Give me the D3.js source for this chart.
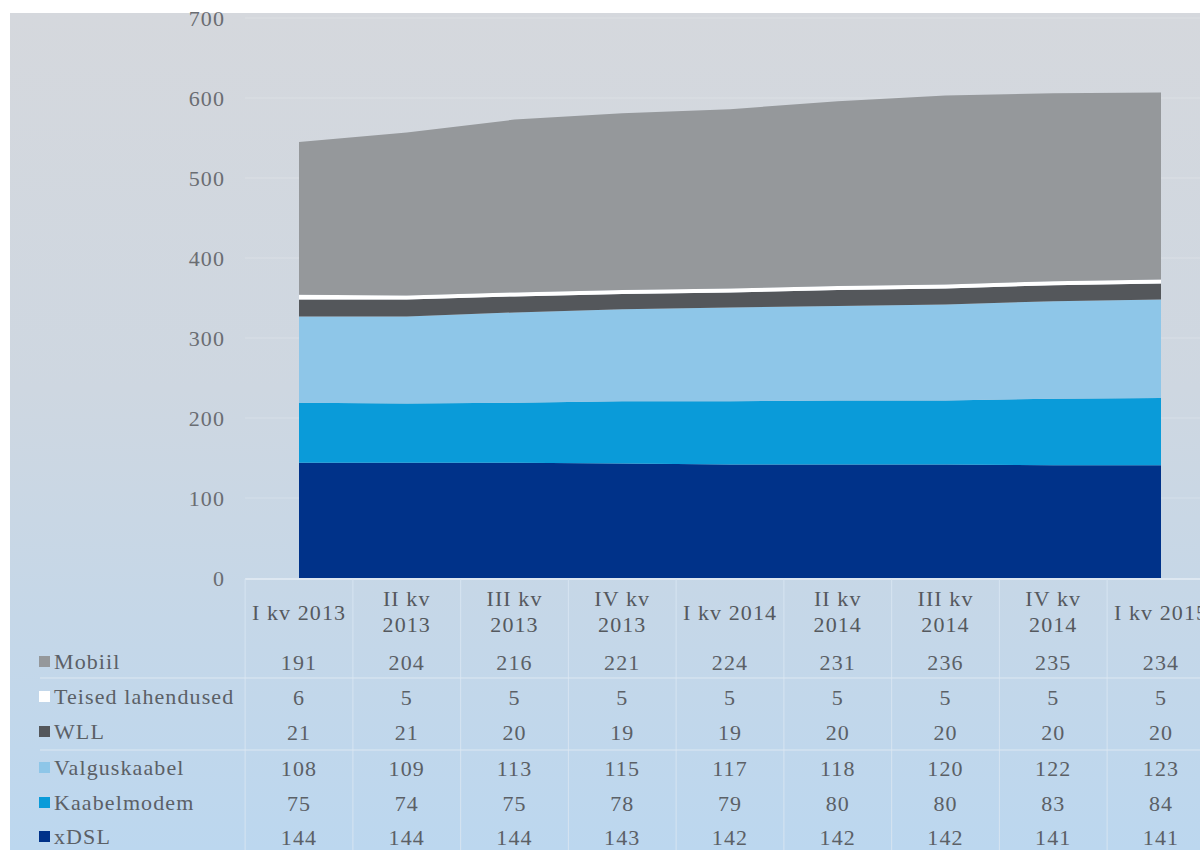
<!DOCTYPE html>
<html>
<head>
<meta charset="utf-8">
<script src="https://cdn.jsdelivr.net/npm/d3@7"></script>
<style>
html,body{margin:0;padding:0;background:#fff;}
svg{display:block;}
</style>
</head>
<body>
<svg id="chart" width="1200" height="850"></svg>
<script>
const categories = ["I kv 2013","II kv 2013","III kv 2013","IV kv 2013","I kv 2014","II kv 2014","III kv 2014","IV kv 2014","I kv 2015"];
const categoryLines = [["I kv 2013"],["II kv","2013"],["III kv","2013"],["IV kv","2013"],["I kv 2014"],["II kv","2014"],["III kv","2014"],["IV kv","2014"],["I kv 2015"]];
const seriesNames = ["Mobiil","Teised lahendused","WLL","Valguskaabel","Kaabelmodem","xDSL"];
const mobiil = [191,204,216,221,224,231,236,235,234];
const teised = [6,5,5,5,5,5,5,5,5];
const wll = [21,21,20,19,19,20,20,20,20];
const valguskaabel = [108,109,113,115,117,118,120,122,123];
const kaabelmodem = [75,74,75,78,79,80,80,83,84];
const xdsl = [144,144,144,143,142,142,142,141,141];
const yTicks = [0,100,200,300,400,500,600,700];

const seriesValues = {"Mobiil":mobiil,"Teised lahendused":teised,"WLL":wll,"Valguskaabel":valguskaabel,"Kaabelmodem":kaabelmodem,"xDSL":xdsl};
const colors = {"Mobiil":"#95989b","Teised lahendused":"#ffffff","WLL":"#54575b","Valguskaabel":"#8ec6e8","Kaabelmodem":"#0a9bd9","xDSL":"#003289"};

const svg = d3.select("#chart");
const W = 1200, H = 850;
const font = "'Liberation Serif', 'Times New Roman', serif";
const fs = 22, ls = 1.1;

// background
const defs = svg.append("defs");
const grad = defs.append("linearGradient").attr("id","bg").attr("x1",0).attr("y1",0).attr("x2",0).attr("y2",1);
grad.append("stop").attr("offset","0%").attr("stop-color","#d5d8dd");
grad.append("stop").attr("offset","45%").attr("stop-color","#ced7e1");
grad.append("stop").attr("offset","100%").attr("stop-color","#bcd7ef");
svg.append("rect").attr("x",0).attr("y",0).attr("width",W).attr("height",H).attr("fill","#fff");
svg.append("rect").attr("x",10).attr("y",13).attr("width",W-10).attr("height",H-13).attr("fill","url(#bg)");

const x = d3.scalePoint().domain(categories).range([299,1161]);
const step = x.step();
const y = d3.scaleLinear().domain([0,700]).range([578,18]);

// gridlines
svg.append("g").selectAll("line").data(yTicks.filter(t=>t>0)).join("line")
  .attr("x1",245).attr("x2",1200)
  .attr("y1",d=>y(d)).attr("y2",d=>y(d))
  .attr("stroke","#ffffff").attr("stroke-opacity",0.22).attr("stroke-width",1);

// y axis labels
const yAxis = d3.axisLeft(y).tickValues(yTicks).tickSize(0).tickPadding(0);
const yg = svg.append("g").attr("transform","translate(225,0)").call(yAxis);
yg.select(".domain").remove();
yg.selectAll("text").attr("font-family",font).attr("font-size",fs).attr("letter-spacing",ls).attr("fill","#6a6d72");

// stacked area
const data = categories.map((c,i)=>{const o={cat:c}; seriesNames.forEach(s=>o[s]=seriesValues[s][i]); return o;});
const stackKeys = ["xDSL","Kaabelmodem","Valguskaabel","WLL","Teised lahendused","Mobiil"];
const stacked = d3.stack().keys(stackKeys)(data);
const area = d3.area().x(d=>x(d.data.cat)).y0(d=>y(d[0])).y1(d=>y(d[1]));
svg.append("g").selectAll("path").data(stacked).join("path")
  .attr("d",area).attr("fill",d=>colors[d.key]);

// table
const tableTop = 578;
const rowCenters = [662,697,732,768,803,837];
const colEdges = categories.map(c=>x(c)-step/2).concat([x(categories[categories.length-1])+step/2]);
const tg = svg.append("g");
tg.append("line").attr("x1",colEdges[0]).attr("x2",1200).attr("y1",tableTop+1).attr("y2",tableTop+1)
  .attr("stroke","#e4edf5").attr("stroke-width",1.5);
tg.selectAll("line.v").data(colEdges).join("line").attr("class","v")
  .attr("x1",d=>d).attr("x2",d=>d).attr("y1",tableTop+1).attr("y2",H)
  .attr("stroke","#d6e4f1").attr("stroke-width",1);
const hLines = [678,750];
tg.selectAll("line.h").data(hLines).join("line").attr("class","h")
  .attr("x1",40).attr("x2",1200).attr("y1",d=>d).attr("y2",d=>d)
  .attr("stroke","#dde8f2").attr("stroke-width",1);

// header labels
categories.forEach((c,i)=>{
  const lines = categoryLines[i];
  const t = tg.append("text").attr("text-anchor","middle")
    .attr("font-family",font).attr("font-size",fs).attr("letter-spacing",ls).attr("fill","#55595e");
  if(lines.length===1){
    t.append("tspan").attr("x",x(c)).attr("y",620).text(lines[0]);
  } else {
    t.append("tspan").attr("x",x(c)).attr("y",606).text(lines[0]);
    t.append("tspan").attr("x",x(c)).attr("y",632).text(lines[1]);
  }
});

// rows
seriesNames.forEach((s,r)=>{
  const yy = rowCenters[r];
  tg.append("rect").attr("x",39).attr("y",yy-6).attr("width",11).attr("height",11)
    .attr("fill",colors[s]);
  tg.append("text").attr("x",54).attr("y",yy+7).attr("font-family",font).attr("font-size",fs)
    .attr("letter-spacing",ls).attr("fill","#5b6066").text(s);
  tg.selectAll(null).data(seriesValues[s]).join("text")
    .attr("x",(d,i)=>x(categories[i])).attr("y",yy+8).attr("text-anchor","middle")
    .attr("font-family",font).attr("font-size",fs).attr("letter-spacing",ls).attr("fill","#5b6066").text(d=>d);
});
</script>
</body>
</html>
